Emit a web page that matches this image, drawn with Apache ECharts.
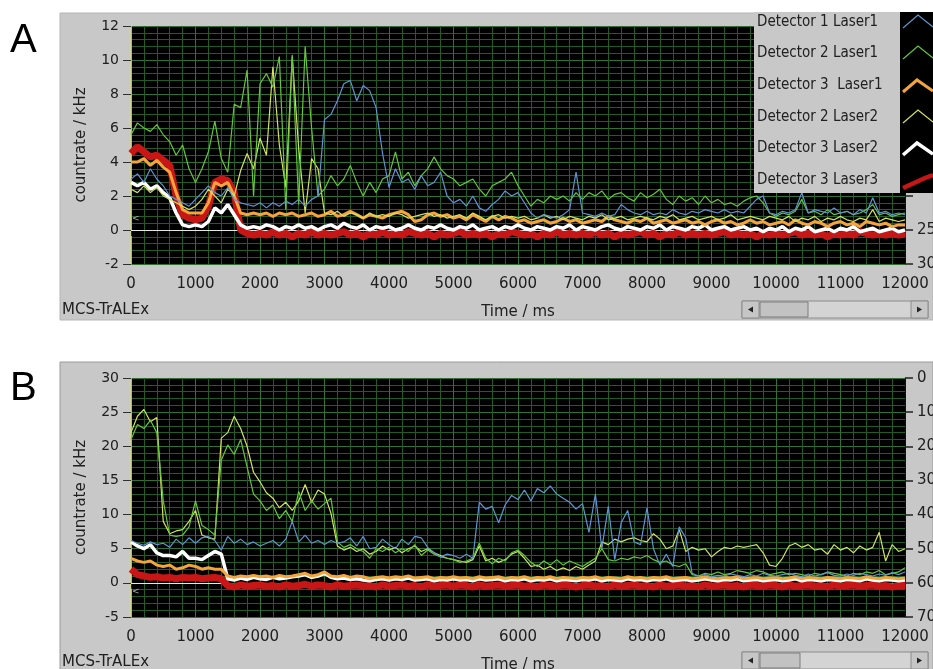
<!DOCTYPE html>
<html><head><meta charset="utf-8">
<script src="https://cdn.jsdelivr.net/npm/echarts@6/dist/echarts.min.js"></script>
<style>html,body{margin:0;padding:0;background:#fff}#c{width:933px;height:669px}</style>
</head><body><div id="c"></div><script>
// sample times (ms), one sample every 100 ms
const time = [];
for (let t = 0; t <= 12000; t += 100) time.push(t);

const names = ['Detector 1 Laser1', 'Detector 2 Laser1', 'Detector 3  Laser1', 'Detector 2 Laser2', 'Detector 3 Laser2', 'Detector 3 Laser3'];
const xTicks = [0, 1000, 2000, 3000, 4000, 5000, 6000, 7000, 8000, 9000, 10000, 11000, 12000];

// ---------- Panel A ----------
const A_det1_l1 = [
 3.0,3.3,2.8,3.6,3.0,2.6,2.0,1.8,1.6,1.4,
 1.8,2.2,2.6,2.2,2.0,2.5,1.8,1.6,1.5,1.4,
 1.6,1.3,1.6,1.4,1.7,1.5,1.8,1.4,1.8,2.0,
 6.5,6.8,7.6,8.6,8.8,7.6,8.5,8.2,7.2,4.5,
 2.5,3.6,2.8,3.0,2.4,3.2,2.6,2.8,3.4,2.0,
 1.6,1.8,1.4,2.0,1.3,1.1,1.5,1.8,2.3,2.0,
 2.2,1.6,1.0,0.7,0.9,0.8,0.7,0.9,1.2,3.4,
 1.0,0.9,0.8,1.0,0.8,0.9,1.5,1.2,1.0,0.9,
 1.1,0.9,1.0,0.9,1.2,1.0,0.9,1.1,1.0,1.2,
 1.1,1.0,1.2,1.0,1.1,1.0,1.4,1.8,2.0,1.0,
 0.9,1.1,1.0,1.2,2.2,1.0,1.2,1.1,1.0,1.3,
 1.0,1.1,0.9,1.2,1.0,1.9,1.0,1.1,0.9,1.0,
 0.9];
const A_det2_l1 = [
 5.6,6.3,6.0,5.8,6.2,5.6,5.2,4.4,5.0,3.6,
 2.8,3.6,4.6,6.4,4.2,3.4,7.4,7.2,9.4,2.0,
 8.6,9.2,8.4,10.2,1.2,10.3,1.5,10.8,6.0,2.0,
 2.4,3.2,2.6,3.0,3.8,2.8,2.0,2.8,2.2,3.0,
 3.2,4.6,3.0,3.4,2.6,3.2,3.6,4.3,3.6,3.2,
 3.0,2.6,2.8,3.0,2.4,2.0,2.6,2.8,3.0,3.4,
 2.6,2.0,1.4,1.8,1.6,2.0,1.8,2.0,1.7,2.2,
 1.8,2.2,2.0,2.3,1.8,2.1,2.2,1.9,1.7,2.2,
 1.9,2.1,2.4,1.8,1.5,2.0,1.7,1.9,1.5,2.0,
 1.6,1.8,1.5,1.6,1.4,1.7,1.9,2.0,1.6,1.0,
 0.8,1.0,0.9,1.1,1.8,1.0,1.1,0.9,1.2,0.9,
 1.0,1.1,0.9,1.0,1.2,1.5,0.9,1.0,0.8,0.9,
 1.0];
const A_det3_l1 = [
 4.0,4.0,4.2,3.8,4.1,3.7,3.4,2.2,1.2,1.0,
 1.0,1.0,1.6,2.8,2.6,2.8,2.0,1.0,0.9,1.0,
 0.9,1.0,0.8,1.0,0.9,1.0,0.8,0.9,1.0,0.8,
 0.9,1.1,0.8,0.9,1.1,0.9,0.7,0.9,0.8,0.7,
 0.9,1.0,1.1,0.9,0.5,0.6,0.9,1.0,0.8,0.9,
 0.7,0.8,0.6,0.9,0.7,0.5,0.8,0.6,0.8,0.7,
 0.5,0.6,0.4,0.5,0.6,0.4,0.5,0.7,0.5,0.6,
 0.4,0.5,0.6,0.5,0.8,0.6,0.5,0.4,0.6,0.5,
 0.7,0.4,0.5,0.6,0.4,0.5,0.6,0.4,0.5,0.3,
 0.5,0.6,0.4,0.5,0.3,0.4,0.6,0.4,0.5,0.3,
 0.4,0.5,0.3,0.6,0.4,0.3,0.5,0.4,0.2,0.4,
 0.5,0.3,0.4,0.2,0.5,0.4,0.3,0.4,0.2,0.3,
 0.3];
const A_det2_l2 = [
 2.4,2.2,2.6,2.2,2.5,2.0,1.8,1.6,1.4,1.2,
 1.4,1.8,2.4,2.0,1.6,2.4,2.0,3.5,4.5,3.6,
 5.4,4.4,9.6,5.0,2.5,10.2,4.8,1.0,4.2,3.6,
 1.0,0.9,1.1,0.8,1.0,0.9,0.7,1.0,0.8,0.9,
 0.8,1.0,0.9,0.7,0.8,0.9,1.0,0.8,0.9,0.7,
 0.8,0.9,0.7,1.0,0.8,0.6,0.8,0.9,0.7,0.8,
 0.7,0.8,0.6,0.7,0.9,0.7,0.8,0.6,0.8,0.7,
 0.6,0.8,0.7,0.9,0.6,0.7,0.8,0.6,0.7,0.8,
 0.7,0.6,0.8,0.7,0.9,0.6,0.7,0.8,0.6,0.7,
 0.8,0.6,0.7,0.9,0.6,0.7,0.8,0.7,0.6,0.8,
 0.7,0.6,0.8,0.5,0.7,0.6,0.8,0.5,0.7,0.6,
 0.8,0.6,0.5,0.7,0.6,1.2,0.5,0.7,0.6,0.5,
 0.6];
const A_det3_l2 = [
 2.8,2.6,2.8,2.4,2.6,2.2,1.9,1.0,0.3,0.2,
 0.3,0.2,0.5,1.3,1.0,1.5,0.9,0.3,0.1,0.2,
 0.1,0.3,0.2,0.0,0.2,0.1,0.3,0.1,0.2,0.0,
 0.2,0.3,0.1,0.4,0.2,0.1,0.3,0.0,0.2,0.1,
 0.2,0.0,0.1,0.3,0.1,0.0,0.2,0.1,0.3,0.1,
 0.0,0.2,0.1,0.3,0.0,0.1,0.2,0.0,0.2,0.1,
 0.3,0.1,0.0,0.2,0.1,0.0,0.2,0.1,0.3,0.0,
 0.2,0.1,0.0,0.2,0.3,0.1,0.0,0.2,0.1,0.0,
 0.2,0.1,0.3,0.0,0.2,0.1,0.0,0.2,0.1,0.3,
 0.0,0.1,0.2,0.0,0.1,0.2,0.0,0.1,-0.1,0.1,
 0.0,0.2,-0.1,0.1,0.0,0.2,-0.1,0.0,0.1,-0.1,
 0.1,0.0,0.2,-0.1,0.0,0.1,-0.1,0.0,0.1,-0.1,
 0.0];
const A_det3_l3 = [
 4.5,4.9,4.6,4.3,4.4,4.1,3.8,2.0,0.9,0.7,
 0.6,0.7,1.4,2.8,3.0,2.9,2.2,0.0,-0.2,-0.3,
 -0.2,-0.3,-0.1,-0.3,-0.2,-0.4,-0.2,-0.3,-0.1,-0.3,
 -0.2,-0.3,-0.2,-0.1,-0.3,-0.2,-0.4,-0.2,-0.3,-0.1,
 -0.3,-0.2,-0.3,-0.1,-0.2,-0.3,-0.2,-0.4,-0.2,-0.3,
 -0.2,-0.1,-0.3,-0.2,-0.3,-0.2,-0.4,-0.2,-0.3,-0.1,
 -0.2,-0.3,-0.2,-0.4,-0.2,-0.3,-0.1,-0.3,-0.2,-0.3,
 -0.2,-0.3,-0.1,-0.3,-0.2,-0.4,-0.2,-0.3,-0.2,-0.1,
 -0.3,-0.2,-0.4,-0.2,-0.3,-0.1,-0.3,-0.2,-0.3,-0.2,
 -0.3,-0.2,-0.1,-0.3,-0.2,-0.3,-0.2,-0.4,-0.2,-0.3,
 -0.2,-0.3,-0.2,-0.1,-0.3,-0.2,-0.3,-0.2,-0.4,-0.2,
 -0.3,-0.2,-0.3,-0.1,-0.2,-0.3,-0.2,-0.3,-0.2,-0.3,
 -0.2];

// ---------- Panel B ----------
const B_det1_l1 = [
 6.2,5.8,5.5,6.0,5.6,5.8,5.2,6.4,5.6,6.6,
 5.8,6.6,6.8,6.2,4.8,6.8,5.8,6.4,5.6,6.0,
 5.4,5.8,6.2,5.4,6.4,9.0,6.0,7.0,5.8,6.2,
 5.6,6.2,5.8,6.0,6.6,5.4,6.8,5.0,5.2,6.4,
 5.6,5.0,6.4,5.6,6.8,6.6,5.2,4.4,3.8,4.2,
 4.0,3.6,4.2,3.6,11.8,10.8,11.2,8.8,11.4,12.8,
 12.2,13.6,12.0,13.8,13.2,14.2,13.0,12.4,11.8,10.8,
 11.6,7.4,13.0,5.0,11.2,3.4,8.8,10.6,6.0,5.6,
 11.0,5.0,2.6,4.2,2.4,8.2,6.6,1.4,1.0,1.2,
 0.9,1.1,1.0,1.3,1.1,0.9,1.2,1.0,1.4,1.1,
 1.0,1.2,1.4,1.1,0.9,1.3,1.0,1.2,1.5,1.1,
 1.0,1.3,1.1,1.4,1.2,1.0,1.3,1.1,1.5,1.2,
 1.6];
const B_det2_l1 = [
 21.0,23.2,22.6,23.8,22.0,12.0,7.0,6.8,7.0,8.2,
 12.0,8.4,7.8,7.0,18.0,20.2,18.8,21.0,17.0,13.0,
 12.0,10.6,11.4,9.4,10.6,9.0,13.4,10.6,12.0,10.8,
 11.6,12.4,6.0,5.2,5.6,5.0,4.6,3.6,5.0,4.6,
 5.2,4.4,5.0,4.6,5.6,4.0,4.8,4.2,3.8,3.6,
 3.4,3.0,3.2,3.6,5.8,3.6,2.8,3.6,3.2,4.4,
 4.8,4.0,3.0,2.4,3.2,2.6,3.4,2.6,3.2,2.8,
 2.4,3.0,3.6,5.0,3.4,3.2,3.6,3.4,3.8,3.6,
 4.0,3.4,3.0,3.2,2.6,2.4,2.8,1.2,1.0,1.4,
 1.2,1.6,1.2,1.4,1.8,1.6,1.4,1.8,1.6,1.2,
 1.4,1.6,1.2,1.4,1.2,1.0,1.4,1.2,1.6,1.4,
 1.2,1.0,1.4,1.2,1.6,1.4,1.8,1.2,1.4,1.6,
 2.2];
const B_det3_l1 = [
 3.6,3.2,3.0,3.2,2.6,2.4,2.6,2.0,2.2,2.6,
 2.4,2.0,2.2,2.0,2.0,1.0,0.8,1.0,0.9,1.1,
 0.9,1.0,0.8,1.1,0.9,1.0,1.2,1.4,1.0,1.2,
 1.6,1.0,0.9,1.1,0.8,1.0,0.9,0.6,0.8,0.9,
 0.7,0.9,0.8,1.0,0.7,0.8,0.9,0.6,0.8,0.7,
 0.9,0.7,0.8,0.6,0.9,0.7,0.8,0.9,0.6,0.8,
 0.7,0.9,0.6,0.8,0.7,0.9,0.6,0.8,0.7,0.6,
 0.8,0.7,0.9,0.6,0.8,0.7,0.6,0.9,0.7,0.8,
 0.6,0.8,0.7,0.9,0.6,0.7,0.8,0.6,0.7,0.9,
 0.7,0.6,0.8,0.7,0.9,0.6,0.7,0.8,0.6,0.7,
 0.8,0.6,0.7,0.9,0.6,0.8,0.7,0.6,0.8,0.7,
 0.6,0.8,0.7,0.6,0.9,0.7,0.6,0.8,0.7,0.6,
 0.7];
const B_det2_l2 = [
 22.0,24.4,25.4,23.6,24.2,9.0,7.2,7.6,7.8,9.0,
 10.6,7.0,6.6,6.4,21.2,22.0,24.4,22.6,20.0,16.2,
 14.8,13.2,12.4,11.0,11.8,10.6,12.0,14.4,11.8,13.6,
 13.0,10.2,5.4,4.8,5.2,4.6,5.0,4.2,4.6,5.4,
 4.8,5.2,4.4,5.0,5.4,4.6,5.0,4.4,4.0,3.6,
 3.4,3.2,3.0,3.4,5.4,3.2,3.6,3.0,3.4,4.2,
 4.6,3.6,2.4,2.6,2.0,2.4,1.8,2.2,1.8,2.4,
 2.0,2.6,3.2,6.0,5.6,6.4,6.0,6.4,6.6,6.2,
 6.0,7.2,6.4,5.0,5.4,7.8,4.6,5.2,4.8,5.0,
 3.8,4.6,5.2,5.0,5.4,5.2,5.4,5.6,4.4,2.6,
 2.4,3.6,5.4,5.8,5.2,5.6,4.8,5.0,4.2,5.6,
 4.8,5.2,4.4,5.4,4.8,5.2,7.4,3.2,5.6,4.6,
 5.0];
const B_det3_l2 = [
 6.0,5.4,5.0,5.6,4.4,4.0,4.0,3.8,4.6,3.6,
 3.6,3.4,4.0,4.6,4.2,0.6,0.4,0.7,0.5,0.8,
 0.6,0.5,0.8,0.6,0.7,0.9,1.0,1.2,0.8,1.0,
 1.4,0.8,0.6,0.7,0.5,0.6,0.4,0.3,0.5,0.6,
 0.4,0.6,0.5,0.7,0.4,0.5,0.6,0.3,0.5,0.4,
 0.6,0.4,0.5,0.3,0.6,0.4,0.5,0.6,0.3,0.5,
 0.4,0.6,0.3,0.5,0.4,0.6,0.3,0.5,0.4,0.3,
 0.5,0.4,0.6,0.3,0.5,0.4,0.3,0.6,0.4,0.5,
 0.3,0.5,0.4,0.6,0.3,0.4,0.5,0.3,0.4,0.6,
 0.4,0.3,0.5,0.4,0.6,0.3,0.4,0.5,0.3,0.4,
 0.5,0.3,0.4,0.6,0.3,0.5,0.4,0.3,0.5,0.4,
 0.3,0.5,0.4,0.3,0.6,0.4,0.3,0.5,0.4,0.3,
 0.4];
const B_det3_l3 = [
 2.0,1.2,1.0,0.8,0.9,0.7,0.8,0.6,0.8,0.7,
 0.8,0.6,0.7,0.8,0.6,-0.4,-0.6,-0.3,-0.5,-0.4,
 -0.3,-0.5,-0.4,-0.6,-0.3,-0.5,-0.4,-0.2,-0.5,-0.3,
 -0.4,-0.6,-0.3,-0.5,-0.4,-0.3,-0.5,-0.4,-0.6,-0.3,
 -0.5,-0.4,-0.3,-0.5,-0.4,-0.6,-0.3,-0.5,-0.4,-0.3,
 -0.5,-0.3,-0.4,-0.6,-0.3,-0.5,-0.4,-0.3,-0.5,-0.4,
 -0.3,-0.5,-0.4,-0.6,-0.3,-0.4,-0.5,-0.3,-0.4,-0.6,
 -0.4,-0.3,-0.5,-0.4,-0.6,-0.3,-0.5,-0.4,-0.3,-0.5,
 -0.4,-0.6,-0.3,-0.5,-0.4,-0.3,-0.5,-0.4,-0.6,-0.3,
 -0.5,-0.4,-0.3,-0.5,-0.4,-0.6,-0.3,-0.4,-0.5,-0.3,
 -0.4,-0.6,-0.3,-0.5,-0.4,-0.3,-0.5,-0.4,-0.6,-0.3,
 -0.5,-0.4,-0.3,-0.5,-0.4,-0.3,-0.5,-0.4,-0.6,-0.4,
 -0.4];

const panelA = [A_det1_l1, A_det2_l1, A_det3_l1, A_det2_l2, A_det3_l2, A_det3_l3];
const panelB = [B_det1_l1, B_det2_l1, B_det3_l1, B_det2_l2, B_det3_l2, B_det3_l3];

const colors = ['#5d95d2', '#64c63c', '#f4a43c', '#d2e262', '#ffffff', '#c81616'];
const widths = [1.2, 1.2, 3, 1.2, 3.5, 7];
const drawOrder = [5, 4, 2, 3, 1, 0];

const FONT = 'DejaVu Sans';
const TXT = '#202020';
const GRID_MAJ = '#317232';
const GRID_MIN = '#245a24';

function makeSeries(gi, arrs) {
  return drawOrder.map((k, n) => {
    const s = {
      type: 'line', name: names[k], xAxisIndex: gi, yAxisIndex: gi * 2,
      data: time.map((t, i) => [t, arrs[k][i]]),
      showSymbol: false, symbol: 'none', animation: false, z: 3 + n,
      lineStyle: { color: colors[k], width: widths[k] },
      itemStyle: { color: colors[k] }
    };
    if (n === 0) {
      s.markLine = { silent: true, symbol: 'none', z: 2, animation: false,
        label: { show: false },
        lineStyle: { color: '#e6e6e6', width: 1, type: 'solid' },
        data: [{ yAxis: 0 }] };
    }
    return s;
  });
}

function xAxisCfg(gi) {
  return {
    type: 'value', gridIndex: gi, min: xTicks[0], max: xTicks[xTicks.length - 1], interval: 1000,
    axisLine: { show: false },
    axisTick: { show: true, length: 6, lineStyle: { color: '#303030', width: 1 } },
    axisLabel: { fontSize: 15, color: TXT, fontFamily: FONT, margin: 13, formatter: v => String(v) },
    splitLine: { show: true, lineStyle: { color: GRID_MAJ, width: 1 } },
    minorTick: { show: false, splitNumber: 5 },
    minorSplitLine: { show: true, lineStyle: { color: GRID_MIN, width: 1 } },
    name: 'Time / ms', nameLocation: 'middle', nameGap: 41,
    nameTextStyle: { fontSize: 15, color: TXT, fontFamily: FONT }
  };
}
function yLeftCfg(gi, min, max, interval) {
  return {
    type: 'value', gridIndex: gi, position: 'left', min: min, max: max, interval: interval,
    axisLine: { show: true, lineStyle: { color: '#d6d68c', width: 1.5 } },
    axisTick: { show: true, length: 8, lineStyle: { color: '#303030', width: 1 } },
    axisLabel: { fontSize: 14, color: TXT, fontFamily: FONT, margin: 12, formatter: v => String(v) },
    splitLine: { show: true, lineStyle: { color: GRID_MAJ, width: 1 } },
    minorTick: { show: false, splitNumber: 5 },
    minorSplitLine: { show: true, lineStyle: { color: GRID_MIN, width: 1 } },
    name: 'countrate / kHz', nameLocation: 'middle', nameGap: 42, nameRotate: 90,
    nameTextStyle: { fontSize: 15, color: TXT, fontFamily: FONT }
  };
}
function yRightCfg(gi, min, max, interval, showFrom) {
  return {
    type: 'value', gridIndex: gi, position: 'right', min: min, max: max, interval: interval, inverse: true,
    axisLine: { show: true, lineStyle: { color: '#101010', width: 1 } },
    axisTick: { show: true, inside: false, length: 8, lineStyle: { color: '#202020', width: 1.5 } },
    axisLabel: { fontSize: 15, color: TXT, fontFamily: FONT, margin: 12,
      formatter: v => (v >= showFrom ? String(v) : '') },
    splitLine: { show: false }
  };
}

// legend (LabVIEW-style plot legend, drawn as graphics)
const legendRowsY = [22, 53, 85, 117, 148, 180];
const legendIcons = [
  [[-15, 6], [0, -7], [15, 5]],
  [[-15, 6], [0, -7], [15, 5]],
  [[-15, 7], [-1, -5], [15, 6]],
  [[-15, 6], [0, -7], [15, 5]],
  [[-15, 7], [-1, -5], [15, 6]],
  [[-15, 8], [7, -2], [15, -5]]
];
const LEGEND_FONT = '15px "DejaVu Sans Condensed", "Liberation Sans Narrow", "DejaVu Sans"';
const graphics = [];
graphics.push({ type: 'rect', z: -5, shape: { x: 60, y: 13, width: 873, height: 307 },
  style: { fill: '#c8c8c8', stroke: '#b4b4b4', lineWidth: 1 } });
graphics.push({ type: 'rect', z: -5, shape: { x: 60, y: 362, width: 873, height: 310 },
  style: { fill: '#c8c8c8', stroke: '#9a9a9a', lineWidth: 1 } });
graphics.push({ type: 'text', z: 50, style: { x: 10, y: 21, text: 'A', font: '40px "Liberation Sans"', fill: '#000' } });
graphics.push({ type: 'text', z: 50, style: { x: 10, y: 369, text: 'B', font: '40px "Liberation Sans"', fill: '#000' } });
graphics.push({ type: 'text', z: 50, style: { x: 62, y: 310, text: 'MCS-TrALEx', font: '15px "DejaVu Sans"', fill: TXT, verticalAlign: 'middle' } });
graphics.push({ type: 'text', z: 50, style: { x: 62, y: 662, text: 'MCS-TrALEx', font: '15px "DejaVu Sans"', fill: TXT, verticalAlign: 'middle' } });
graphics.push({ type: 'text', z: 50, style: { x: 132, y: 219, text: '<', font: '9px "DejaVu Sans"', fill: '#b8b8b8', verticalAlign: 'middle' } });
graphics.push({ type: 'text', z: 50, style: { x: 132, y: 592, text: '<', font: '9px "DejaVu Sans"', fill: '#b8b8b8', verticalAlign: 'middle' } });
// legend boxes
graphics.push({ type: 'rect', z: 100, shape: { x: 754, y: 12, width: 146, height: 181 }, style: { fill: '#c8c8c8' } });
graphics.push({ type: 'rect', z: 100, shape: { x: 900, y: 12, width: 33, height: 181 }, style: { fill: '#000' } });
names.forEach((nm, k) => {
  const yc = legendRowsY[k];
  graphics.push({ type: 'text', z: 101, style: { x: 757, y: yc, text: nm, font: LEGEND_FONT, fill: TXT, verticalAlign: 'middle' } });
  graphics.push({ type: 'polyline', z: 101, shape: { points: legendIcons[k].map(p => [918 + p[0], yc + p[1]]) },
    style: { stroke: colors[k], lineWidth: Math.min(widths[k], 4.5), fill: null } });
});
// scrollbars
function scrollbar(y, thumbX, thumbW) {
  graphics.push({ type: 'rect', z: 60, shape: { x: 742, y: y, width: 186, height: 17 }, style: { fill: '#d4d4d4', stroke: '#8c8c8c', lineWidth: 1 } });
  graphics.push({ type: 'rect', z: 61, shape: { x: 742, y: y, width: 17, height: 17 }, style: { fill: '#c6c6c6', stroke: '#8c8c8c', lineWidth: 1 } });
  graphics.push({ type: 'rect', z: 61, shape: { x: 911, y: y, width: 17, height: 17 }, style: { fill: '#c6c6c6', stroke: '#8c8c8c', lineWidth: 1 } });
  graphics.push({ type: 'rect', z: 61, shape: { x: thumbX, y: y + 1, width: thumbW, height: 15 }, style: { fill: '#c2c2c2', stroke: '#7c7c7c', lineWidth: 1 } });
  graphics.push({ type: 'polygon', z: 62, shape: { points: [[748, y + 8.5], [753, y + 5.5], [753, y + 11.5]] }, style: { fill: '#222' } });
  graphics.push({ type: 'polygon', z: 62, shape: { points: [[922, y + 8.5], [917, y + 5.5], [917, y + 11.5]] }, style: { fill: '#222' } });
}
scrollbar(301, 760, 48);
scrollbar(652, 760, 40);

const option = {
  animation: false,
  backgroundColor: '#ffffff',
  textStyle: { fontFamily: FONT },
  grid: [
    { left: 131, top: 26, width: 774, height: 238, show: true, backgroundColor: '#000000', borderWidth: 0,
      containLabel: false, outerBoundsMode: 'none' },
    { left: 131, top: 378, width: 774, height: 239, show: true, backgroundColor: '#000000', borderWidth: 0,
      containLabel: false, outerBoundsMode: 'none' }
  ],
  xAxis: [xAxisCfg(0), xAxisCfg(1)],
  yAxis: [
    yLeftCfg(0, -2, 12, 2), yRightCfg(0, -5, 30, 5, 25),
    yLeftCfg(1, -5, 30, 5), yRightCfg(1, 0, 70, 10, 0)
  ],
  series: makeSeries(0, panelA).concat(makeSeries(1, panelB)),
  graphic: graphics
};

const chart = echarts.init(document.getElementById('c'), null, { renderer: 'canvas' });
chart.setOption(option);
</script></body></html>
